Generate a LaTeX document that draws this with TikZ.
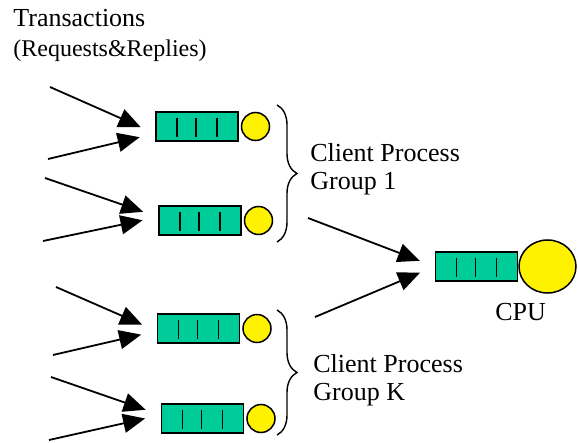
\documentclass[tikz,border=0pt]{standalone}
\usepackage{fontspec}
\IfFontExistsTF{LiberationSerif-Regular.ttf}
	{\setmainfont{LiberationSerif-Regular.ttf}}
	{\setmainfont{Liberation Serif}}
\usetikzlibrary{arrows.meta, positioning, shapes.geometric, decorations.pathreplacing}
\definecolor{qgreen}{RGB}{0,204,153}
\tikzset{
	queue/.style={draw, line width=0.75pt, fill=qgreen, minimum width=41pt, minimum height=14.5pt, inner sep=0pt},
	server/.style={circle, draw, line width=0.75pt, fill=yellow, minimum size=14pt, inner sep=0pt},
	job/.style={line width=0.9pt, -{Triangle[length=11pt,width=9.5pt]}, shorten >=8pt},
	grpbrace/.style={decorate, decoration={brace, amplitude=10pt}, line width=0.7pt},
	lbl/.style={inner sep=0pt, anchor=base west, align=left, font=\fontsize{13}{14}\selectfont},
}

\begin{document}
\begin{tikzpicture}[x=0.5pt, y=-0.5pt]
	\useasboundingbox (0,0) rectangle (578,443);
	% NOTE: y grows downwards here, one unit is half a point.
	\node[queue] (q1) at (197,126.5) {};
	\node[queue] (q2) at (200,220.5) {};
	\node[queue] (q3) at (198.5,328.5) {};
	\node[queue] (q4) at (202.5,418.5) {};
	\node[queue] (cpuq) at (476.5,266.5) {};
	\foreach \q in {q1,q2,q3,q4}
		\node[server, right=1pt of \q] (s\q) {};
	\node[server, ellipse, minimum width=28.5pt, minimum height=26.5pt, right=0pt of cpuq] (cpu) {};
	% three slots in every queue
	\foreach \q in {q1,q2,q3,q4,cpuq}
		\foreach \dx in {-20,-1,20}
			\draw[line width=0.75pt] ([xshift=\dx*0.5pt, yshift=-5.25pt]\q.center) -- ++(0,-19);

	\coordinate (a1) at (50,87);
	\coordinate (b1) at (48,159);
	\coordinate (a2) at (45,178);
	\coordinate (b2) at (43,241);
	\coordinate (a3) at (56,287);
	\coordinate (b3) at (53,355);
	\coordinate (a4) at (51,377);
	\coordinate (b4) at (49,440);
	\coordinate (c1) at (308,218);
	\coordinate (c2) at (315,317);
	\foreach \i/\dy in {1/-3.5,2/1.75,3/-1.25,4/1.75} {
		\draw[job] (a\i) -- ([yshift=\dy pt]q\i.west);
		\draw[job] (b\i) -- ([yshift=\dy pt]q\i.west);
	}
	\draw[job] (c1) -- (cpuq.west);
	\draw[job] (c2) -- (cpuq.west);

	\draw[grpbrace] (277,105) -- (277,242);
	\draw[grpbrace] (277,310) -- (277,435);

	\node[lbl] (trans) at (13,27) {Transactions};
	\node[lbl, font=\fontsize{12}{14}\selectfont] (reqrep) at (13,57) {(Requests\&Replies)};
	% base of a two-line label sits on its last line
	\node[lbl] (grp1) at (310,190) {Client Process\\Group 1};
	\node[lbl] (grpk) at (313,400) {Client Process\\Group K};
	\node[lbl] (cpulbl) at (495,321) {CPU};
\end{tikzpicture}
\end{document}
